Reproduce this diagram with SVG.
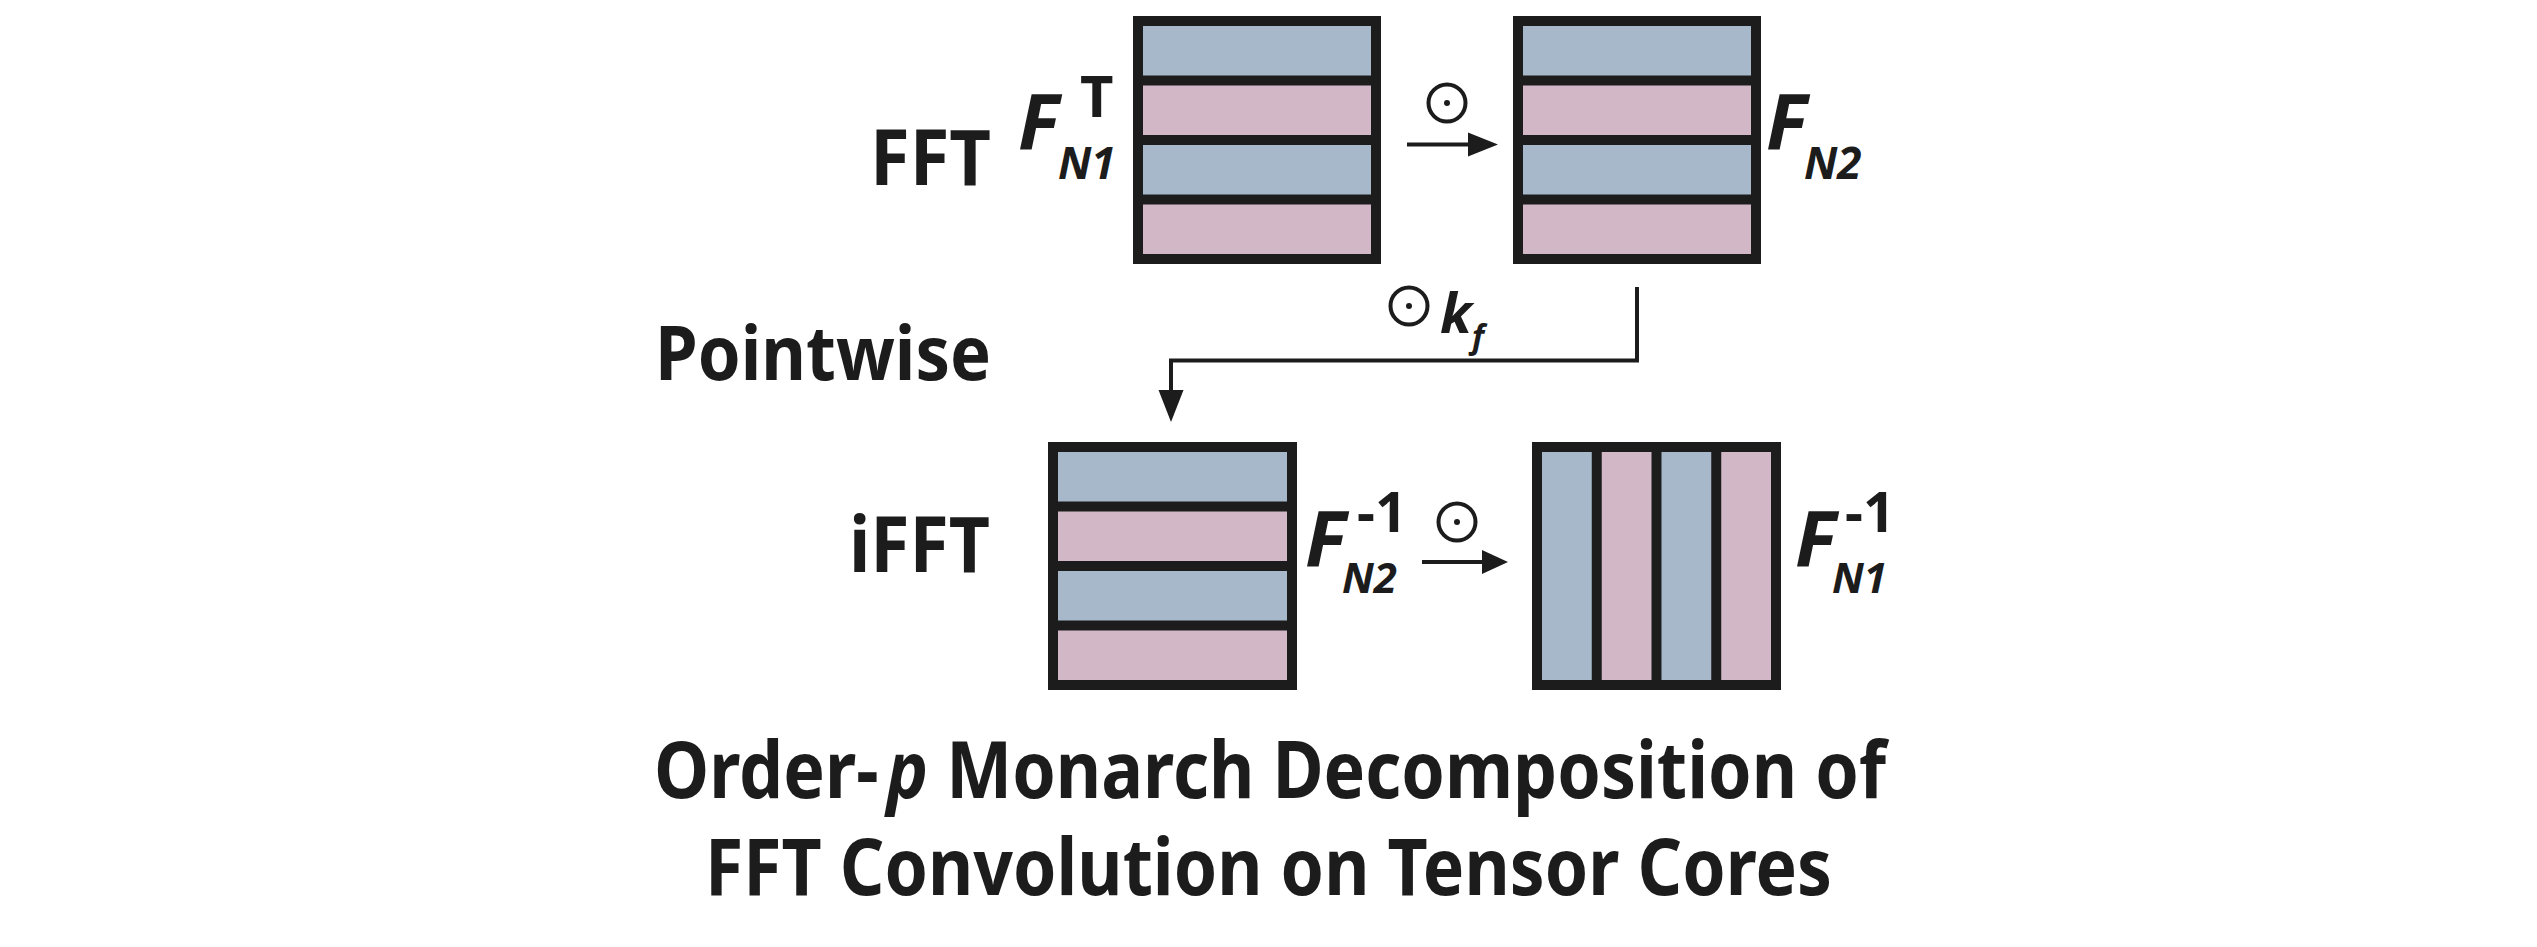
<svg xmlns="http://www.w3.org/2000/svg" width="2537" height="947" viewBox="0 0 2537 947">
<style>
.lbl{font-family:"Noto Sans","Liberation Sans",sans-serif;font-weight:bold;fill:#1c1c1c}
.it{font-style:italic}
.frame{fill:#1c1c1c}
.blue{fill:#a7b8ca}
.pink{fill:#d2b8c7}
.ln{stroke:#1c1c1c;stroke-width:4;fill:none}
.head{fill:#1c1c1c}
.odot{fill:none;stroke:#1c1c1c;stroke-width:4}
</style>
<rect width="2537" height="947" fill="#ffffff"/>
<g id="label-fft"><text class="lbl" x="991" y="185" font-size="77" text-anchor="end" textLength="121" lengthAdjust="spacingAndGlyphs">FFT</text></g>
<g id="label-pointwise"><text class="lbl" x="991" y="380" font-size="76" text-anchor="end" textLength="336" lengthAdjust="spacingAndGlyphs">Pointwise</text></g>
<g id="label-ifft"><text class="lbl" x="990" y="572" font-size="77" text-anchor="end" textLength="141" lengthAdjust="spacingAndGlyphs">iFFT</text></g>
<g id="matrix-fn1t">
<rect class="frame" x="1133" y="16" width="248" height="248"/>
<rect class="blue" x="1143" y="26" width="228" height="49.5"/>
<rect class="pink" x="1143" y="85.5" width="228" height="49.5"/>
<rect class="blue" x="1143" y="145" width="228" height="49.5"/>
<rect class="pink" x="1143" y="204.5" width="228" height="49.5"/>
<text class="lbl it" x="1018" y="150" font-size="77">F</text>
<text class="lbl" x="1080" y="117" font-size="58">T</text>
<text class="lbl it" x="1058" y="179" font-size="44">N1</text>
</g>
<g id="matrix-fn2">
<rect class="frame" x="1513" y="16" width="248" height="248"/>
<rect class="blue" x="1523" y="26" width="228" height="49.5"/>
<rect class="pink" x="1523" y="85.5" width="228" height="49.5"/>
<rect class="blue" x="1523" y="145" width="228" height="49.5"/>
<rect class="pink" x="1523" y="204.5" width="228" height="49.5"/>
<text class="lbl it" x="1766" y="150" font-size="77">F</text>
<text class="lbl it" x="1804" y="179" font-size="44">N2</text>
</g>
<g id="matrix-fn2inv">
<rect class="frame" x="1048" y="442" width="249" height="248"/>
<rect class="blue" x="1058" y="452" width="229" height="49.5"/>
<rect class="pink" x="1058" y="511.5" width="229" height="49.5"/>
<rect class="blue" x="1058" y="571" width="229" height="49.5"/>
<rect class="pink" x="1058" y="630.5" width="229" height="49.5"/>
<text class="lbl it" x="1305" y="567" font-size="77">F</text>
<text class="lbl" x="1357" y="532" font-size="56">-1</text>
<text class="lbl it" x="1342" y="593" font-size="42">N2</text>
</g>
<g id="matrix-fn1inv">
<rect class="frame" x="1532" y="442" width="249" height="248"/>
<rect class="blue" x="1542" y="452" width="49.75" height="228"/>
<rect class="pink" x="1601.75" y="452" width="49.75" height="228"/>
<rect class="blue" x="1661.5" y="452" width="49.75" height="228"/>
<rect class="pink" x="1721.25" y="452" width="49.75" height="228"/>
<text class="lbl it" x="1795" y="567" font-size="77">F</text>
<text class="lbl" x="1845" y="532" font-size="56">-1</text>
<text class="lbl it" x="1832" y="593" font-size="42">N1</text>
</g>
<g id="connectors">
<line class="ln" x1="1407" y1="144.5" x2="1470" y2="144.5"/>
<polygon class="head" points="1468,132.5 1498,144.5 1468,156.5"/>
<circle class="odot" cx="1447" cy="103" r="18.5"/>
<circle class="head" cx="1447" cy="103" r="3"/>
<path class="ln" d="M1637,287 V360.5 H1171 V395"/>
<polygon class="head" points="1158.5,390 1183.5,390 1171,422"/>
<circle class="odot" cx="1409" cy="306" r="18.5"/>
<circle class="head" cx="1409" cy="306" r="3"/>
<text class="lbl it" x="1440" y="333" font-size="56">k</text>
<text class="lbl it" x="1472" y="348" font-size="32">f</text>
<line class="ln" x1="1422" y1="562" x2="1484" y2="562"/>
<polygon class="head" points="1482,550 1508,562 1482,574"/>
<circle class="odot" cx="1457" cy="522" r="18.5"/>
<circle class="head" cx="1457" cy="522" r="3"/>
</g>
<g id="title">
<text class="lbl" x="1270" y="798" font-size="78" text-anchor="middle" textLength="1232" lengthAdjust="spacingAndGlyphs">Order-<tspan class="it" dx="9">p</tspan> Monarch Decomposition of</text>
<text class="lbl" x="1268.5" y="895" font-size="78" text-anchor="middle" textLength="1127" lengthAdjust="spacingAndGlyphs">FFT Convolution on Tensor Cores</text>
</g>
</svg>
